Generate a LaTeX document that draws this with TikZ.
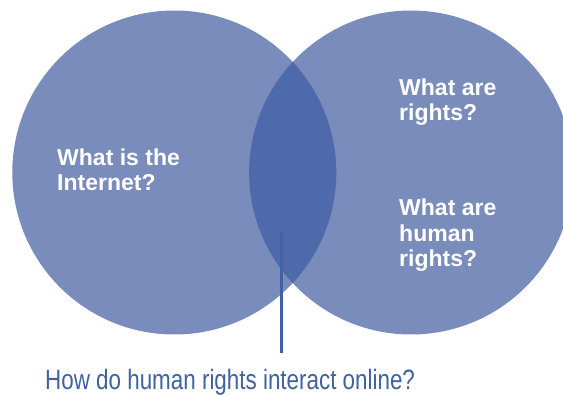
\documentclass[tikz,border=0pt]{standalone}
\usepackage{fontspec}
\setmainfont{Liberation Sans}
\newfontfamily\narrowfont[FakeStretch=0.8]{Liberation Sans}
\usetikzlibrary{positioning}
\definecolor{setfill}{HTML}{7A8CBC}
\definecolor{lensfill}{HTML}{4F6AAA}
\definecolor{pinline}{HTML}{4060AA}
\definecolor{captext}{HTML}{3F629F}
\tikzstyle{set} = [circle, minimum size=324pt, inner sep=0pt, fill=setfill]
\tikzstyle{question} = [white, font=\bfseries\fontsize{23}{25.5}\selectfont, align=left, anchor=base west, inner sep=0pt]
\tikzstyle{caption} = [captext, font=\narrowfont\fontsize{28}{30}\selectfont, anchor=base west, inner sep=0pt]
\tikzstyle{pin line} = [pinline, line width=2.6pt]

\begin{document}
\begin{tikzpicture}[x=1pt, y=1pt]
      \clip (0,0) rectangle (563,396);
      \node (internet) [set] at (174.3,223.5) {};
      \node (rights)   [set] at (411.1,223.5) {};
      \begin{scope}
        \clip (internet.center) circle (162pt);
        \fill [lensfill] (rights.center) circle (162pt);
      \end{scope}

      \node (whatnet)   [question] at (57,205)  {What is the\\Internet?};
      \node (whatright) [question] at (399,275) {What are\\rights?};
      \node (whathuman) [question] at (399,129) {What are\\human\\rights?};

      \node (online) [caption] at (45,6) {How do human rights interact online?};
      \coordinate (pintop) at (281.7,164);
      \coordinate (pinfoot) at (281.7,43);
      \draw [pin line] (pintop) -- (pinfoot);
    \end{tikzpicture}
\end{document}
